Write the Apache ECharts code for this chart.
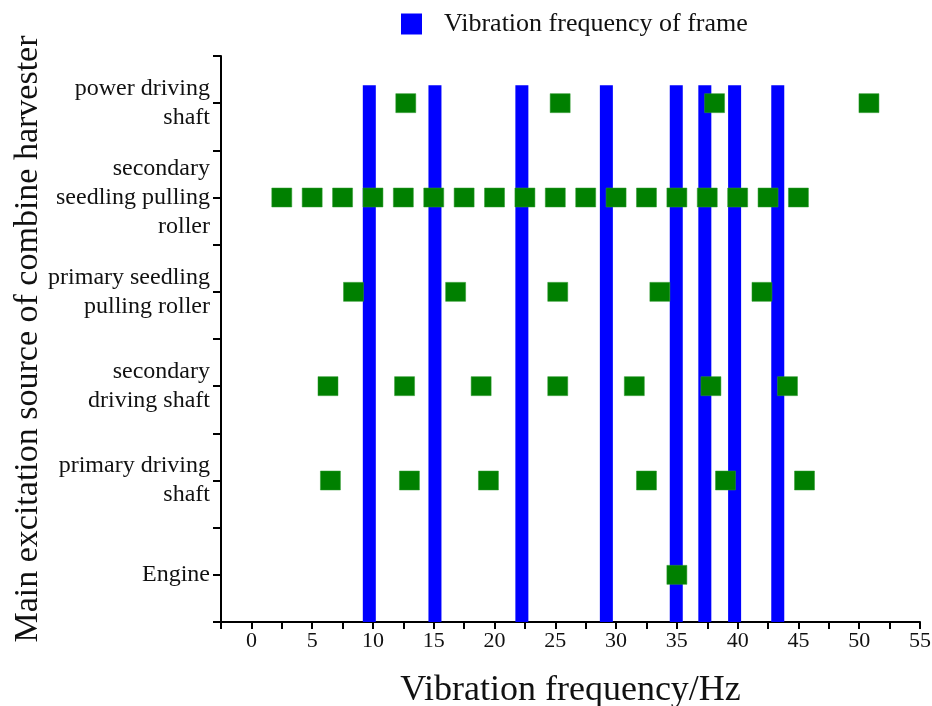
<!DOCTYPE html>
<html>
<head>
<meta charset="utf-8">
<script src="https://cdn.jsdelivr.net/npm/echarts@6/dist/echarts.min.js"></script>
<style>html,body{margin:0;padding:0;background:#fff;}#c{width:932px;height:706px;}</style>
</head>
<body>
<div id="c"></div>
<script>
const categories = ['Engine', 'primary driving\nshaft', 'secondary\ndriving shaft', 'primary seedling\npulling roller', 'secondary\nseedling pulling\nroller', 'power driving\nshaft'];
const frameFrequencies = [9.7, 15.1, 22.25, 29.2, 34.95, 37.3, 39.75, 43.3];
const frameBarHeight = 5.69;
const engineFreq = [35];
const primaryDrivingFreq = [6.5, 13, 19.5, 32.5, 39, 45.5];
const secondaryDrivingFreq = [6.3, 12.6, 18.9, 25.2, 31.5, 37.8, 44.1];
const primarySeedlingFreq = [8.4, 16.8, 25.2, 33.6, 42.0];
const secondarySeedlingFreq = [2.5, 5, 7.5, 10, 12.5, 15, 17.5, 20, 22.5, 25, 27.5, 30, 32.5, 35, 37.5, 40, 42.5, 45];
const powerDrivingFreq = [12.7, 25.4, 38.1, 50.8];
const xTicks = [0, 5, 10, 15, 20, 25, 30, 35, 40, 45, 50, 55];

const sourceFreqs = [engineFreq, primaryDrivingFreq, secondaryDrivingFreq, primarySeedlingFreq, secondarySeedlingFreq, powerDrivingFreq];
const scatterData = [];
sourceFreqs.forEach((arr, i) => arr.forEach(f => scatterData.push([f, i + 0.5])));
const barData = frameFrequencies.map(f => [f, frameBarHeight]);

const FONT = 'Liberation Serif';
const chart = echarts.init(document.getElementById('c'));
chart.setOption({
  animation: false,
  grid: { left: 221, right: 12, top: 56, bottom: 84, containLabel: false, outerBoundsMode: 'none' },
  legend: {
    data: [{ name: 'Vibration frequency of frame', icon: 'rect' }],
    left: 396, top: 6,
    itemWidth: 21, itemHeight: 21,
    textStyle: { fontFamily: FONT, fontSize: 26, color: '#111', padding: [0, 0, 0, 17] }
  },
  xAxis: {
    type: 'value', min: -2.5, max: 55, interval: 2.5,
    name: 'Vibration frequency/Hz', nameLocation: 'middle', nameGap: 51, nameMoveOverlap: false,
    nameTextStyle: { fontFamily: FONT, fontSize: 36, color: '#111' },
    axisLine: { onZero: false, lineStyle: { color: '#000', width: 2 } },
    axisTick: { show: true, length: 7, lineStyle: { color: '#000', width: 2 } },
    axisLabel: {
      fontFamily: FONT, fontSize: 22, color: '#111', margin: 8,
      formatter: v => (xTicks.indexOf(v) >= 0 ? String(v) : '')
    },
    splitLine: { show: false }
  },
  yAxis: {
    type: 'value', min: 0, max: 6, interval: 0.5,
    name: 'Main excitation source of combine harvester', nameLocation: 'middle', nameGap: 176, nameMoveOverlap: false,
    nameRotate: 90,
    nameTextStyle: { fontFamily: FONT, fontSize: 34, color: '#111' },
    axisLine: { onZero: false, lineStyle: { color: '#000', width: 2 } },
    axisTick: { show: true, length: 8, lineStyle: { color: '#000', width: 2 } },
    axisLabel: {
      fontFamily: FONT, fontSize: 24, color: '#111', margin: 11, lineHeight: 29, align: 'right',
      formatter: v => {
        const i = Math.round(v - 0.5);
        return Math.abs(v - (i + 0.5)) < 1e-6 && categories[i] ? categories[i] : '';
      }
    },
    splitLine: { show: false }
  },
  series: [
    {
      name: 'Vibration frequency of frame', type: 'bar', data: barData,
      barWidth: 13, itemStyle: { color: '#0000ff' }, z: 2
    },
    {
      name: 'sources', type: 'scatter', data: scatterData,
      symbol: 'rect', symbolSize: [20, 19],
      itemStyle: { color: '#008000', opacity: 1, borderColor: '#2f9a2f', borderWidth: 0.5 }, z: 3
    }
  ]
});
</script>
</body>
</html>
